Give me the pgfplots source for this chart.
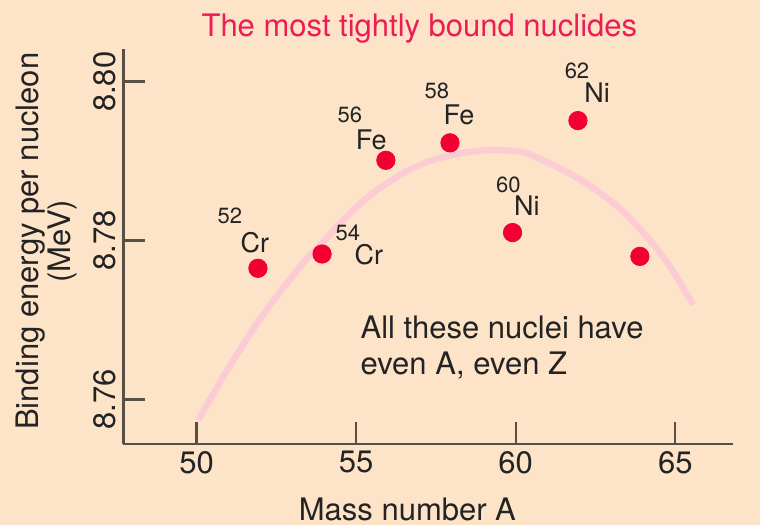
\documentclass[border=0pt]{standalone}
\usepackage{fontspec}
\setmainfont{TeX Gyre Heros}
\usepackage{pgfplots}
\pgfplotsset{compat=1.18}
\definecolor{bg}{RGB}{253,228,200}
\definecolor{titlecol}{RGB}{237,28,84}
\definecolor{dotcol}{RGB}{242,0,52}
\definecolor{curvecol}{RGB}{252,204,212}
\definecolor{axiscol}{RGB}{88,80,66}
\definecolor{txt}{RGB}{35,35,35}
\newcommand{\bigf}{\fontsize{15.5}{18}\selectfont}
\newcommand{\supf}{\fontsize{11}{13}\selectfont}
\newcommand{\elf}{\fontsize{13.5}{16}\selectfont}
\begin{document}
\begin{tikzpicture}
\fill[bg] (-61.65pt,-40.5pt) rectangle (318.35pt,222pt);
\begin{axis}[
  at={(0,0)}, anchor=south west,
  scale only axis, width=304.85pt, height=197.35pt,
  xmin=47.70, xmax=66.81, ymin=8.75437, ymax=8.80408,
  axis lines=left,
  axis line style={-, line width=1.3pt, draw=axiscol},
  tick align=inside, major tick length=11pt,
  tick style={line width=1.2pt, draw=axiscol},
  xtick={50,55,60,65}, xticklabels={50,55,60,65},
  ytick={8.76,8.78,8.80}, yticklabels={8.76,8.78,8.80},
  ticklabel style={font=\bigf, text=txt},
  yticklabel style={rotate=90, anchor=south},
  clip=false,
]
\addplot[smooth, line width=3.2pt, color=curvecol] coordinates {
(50.05,8.7574) (50.83,8.7628) (51.35,8.7662) (51.88,8.7695) (52.40,8.7724)
(52.92,8.7751) (53.45,8.7777) (54.00,8.7800) (54.50,8.7822) (55.00,8.7842)
(55.53,8.7860) (56.00,8.7873) (56.58,8.7887) (57.10,8.7897) (57.62,8.7904)
(58.15,8.7909) (58.67,8.7912) (59.10,8.7914) (59.50,8.7914) (59.90,8.7913)
(60.34,8.7910) (60.80,8.7902) (61.28,8.7893) (61.85,8.7881) (62.43,8.7866)
(63.00,8.7849) (63.48,8.7832) (64.21,8.7800) (64.84,8.7767) (65.56,8.7719)
};
\addplot[only marks, mark=*, mark size=4.6pt, color=dotcol] coordinates {
(51.92,8.7765) (53.93,8.7783) (55.93,8.7901) (57.94,8.7923)
(59.90,8.7810) (61.95,8.7951) (63.89,8.7780)
};
\node[font=\bigf, text=titlecol, anchor=base] at (axis cs:56.98,8.80567) {The most tightly bound nuclides};
\node[font=\bigf, text=txt, anchor=base] at (axis cs:56.605,8.74477) {Mass number A};
\node[font=\bigf, text=txt, anchor=base, rotate=90] at (axis cs:45.05,8.77991) {Binding energy per nucleon};
\node[font=\bigf, text=txt, anchor=base, rotate=90] at (axis cs:46.06,8.77991) {(MeV)};
\node[font=\bigf, text=txt, anchor=base west, inner sep=0] at (axis cs:55.125,8.76770) {All these nuclei have};
\node[font=\bigf, text=txt, anchor=base west, inner sep=0] at (axis cs:55.125,8.76316) {even A, even Z};
% nuclide labels
\node[font=\supf, text=txt, inner sep=0] at (axis cs:51.04,8.78306) {52};
\node[font=\elf, text=txt, inner sep=0] at (axis cs:51.82,8.77970) {Cr};
\node[font=\supf, text=txt, inner sep=0] at (axis cs:54.74,8.78090) {54};
\node[font=\elf, text=txt, inner sep=0] at (axis cs:55.40,8.77827) {Cr};
\node[font=\supf, text=txt, inner sep=0] at (axis cs:54.80,8.79578) {56};
\node[font=\elf, text=txt, inner sep=0] at (axis cs:55.47,8.79270) {Fe};
\node[font=\supf, text=txt, inner sep=0] at (axis cs:57.53,8.79880) {58};
\node[font=\elf, text=txt, inner sep=0] at (axis cs:58.22,8.79578) {Fe};
\node[font=\supf, text=txt, inner sep=0] at (axis cs:59.77,8.78700) {60};
\node[font=\elf, text=txt, inner sep=0] at (axis cs:60.35,8.78438) {Ni};
\node[font=\supf, text=txt, inner sep=0] at (axis cs:61.92,8.80132) {62};
\node[font=\elf, text=txt, inner sep=0] at (axis cs:62.55,8.79868) {Ni};
\end{axis}
\pgfresetboundingbox
\path[use as bounding box] (-61.65pt,-40.5pt) rectangle (318.35pt,222pt);
\end{tikzpicture}
\end{document}
